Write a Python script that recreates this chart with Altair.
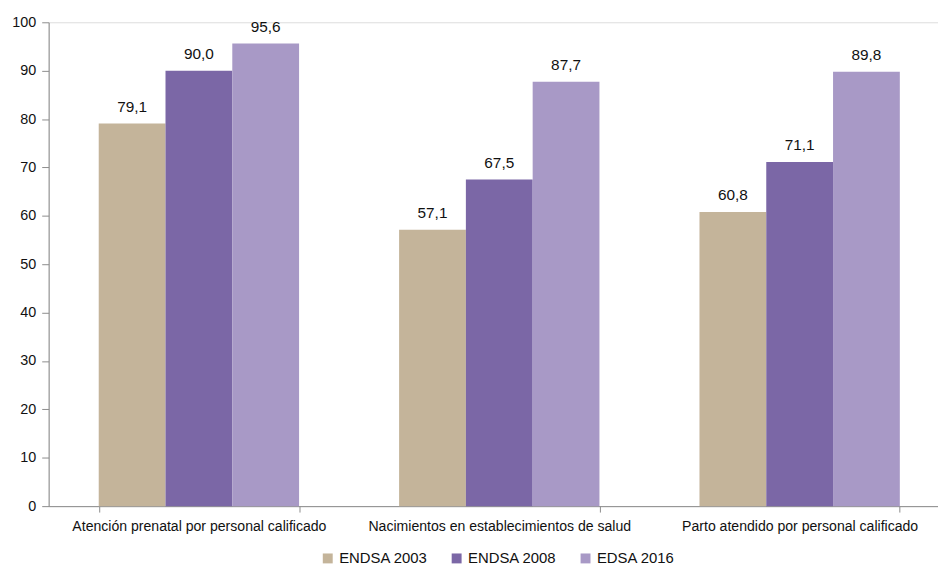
import altair as alt
import pandas as pd

categories = [
    "Atención prenatal por personal calificado",
    "Nacimientos en establecimientos de salud",
    "Parto atendido por personal calificado",
]
series = ["ENDSA 2003", "ENDSA 2008", "EDSA 2016"]
values_2003 = [79.1, 57.1, 60.8]
values_2008 = [90.0, 67.5, 71.1]
values_2016 = [95.6, 87.7, 89.8]
colors = ["#C4B49A", "#7B67A6", "#A899C6"]
legend_colors = ["#C8A06F", "#7B67A6", "#A899C6"]

rows = []
for s, vals in zip(series, [values_2003, values_2008, values_2016]):
    for c, v in zip(categories, vals):
        rows.append({"cat": c, "serie": s, "valor": v})
df = pd.DataFrame(rows)

FONT = "Liberation Sans, Arial, sans-serif"

x = alt.X(
    "cat:N",
    sort=categories,
    title=None,
    scale=alt.Scale(range=[0, 909], paddingInner=0.333, paddingOuter=0.1667),
    axis=alt.Axis(
        labelAngle=0,
        tickBand="extent",
        domainColor="#8c8c8c",
        tickColor="#8c8c8c",
        tickSize=6,
        labelPadding=8,
        labelFontSize=14.2,
        labelFont=FONT,
        labelColor="#111111",
        labelLimit=400,
    ),
)
xoff = alt.XOffset("serie:N", sort=series, scale=alt.Scale(domain=series, paddingInner=0, paddingOuter=0))

base = alt.Chart(df).encode(x=x, xOffset=xoff)

legend_expr = "indexof(%s, datum.value) >= 0 ? %s[indexof(%s, datum.value)] : '#999999'" % (
    str(series), str(legend_colors), str(series)
)

bars = base.mark_bar().encode(
    y=alt.Y(
        "valor:Q",
        title=None,
        scale=alt.Scale(domain=[0, 100]),
        axis=alt.Axis(
            values=list(range(0, 101, 10)),
            grid=False,
            domainColor="#8c8c8c",
            tickColor="#8c8c8c",
            tickSize=7,
            labelPadding=6,
            labelFontSize=14.5,
            labelFont=FONT,
            labelColor="#111111",
        ),
    ),
    color=alt.Color(
        "serie:N",
        sort=series,
        scale=alt.Scale(domain=series, range=colors),
        legend=alt.Legend(
            title=None,
            orient="none",
            direction="horizontal",
            legendX=274,
            legendY=533,
            symbolType="square",
            symbolSize=100,
            symbolStrokeWidth=0,
            symbolOpacity=1,
            symbolFillColor=alt.ExprRef(expr=legend_expr),
            labelFontSize=15,
            labelFont=FONT,
            labelColor="#111111",
            labelOffset=4,
            columnPadding=21,
        ),
    ),
)

labels = base.mark_text(
    baseline="alphabetic", dy=-12, fontSize=15.5, font=FONT, color="#111111"
).transform_calculate(
    lab="replace(format(datum.valor, '.1f'), '.', ',')"
).encode(
    y="valor:Q",
    text="lab:N",
)

chart = (
    alt.layer(bars, labels)
    .properties(
        width=897,
        height=488,
        autosize=alt.AutoSizeParams(type="none"),
        padding={"left": 41, "top": 12, "right": 0, "bottom": 62},
    )
    .configure_view(stroke=None)
    .configure(background="white")
)

chart.save("out.html", embed_options={"renderer": "svg", "actions": False})
